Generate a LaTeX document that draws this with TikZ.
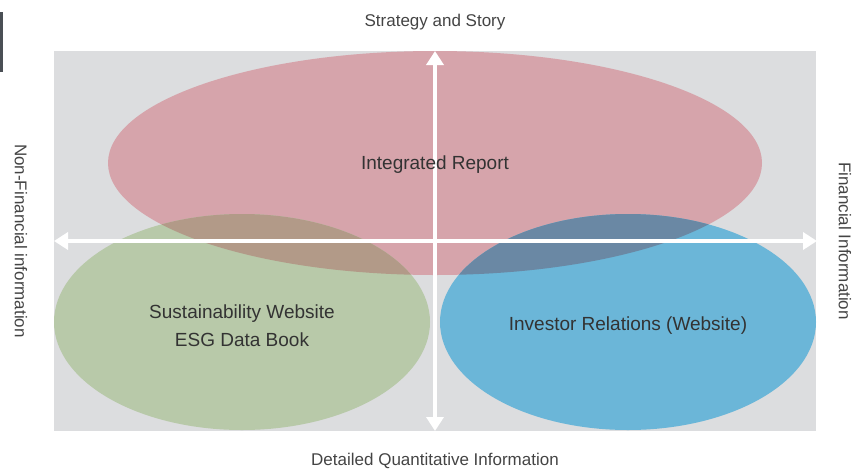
\documentclass[tikz,border=0pt]{standalone}
\usepackage{fontspec}
\setmainfont{Liberation Sans}
\usetikzlibrary{arrows.meta}

\definecolor{panelgray}{HTML}{DCDDDF}
\definecolor{reportred}{HTML}{D6A4AB}
\definecolor{esggreen}{HTML}{B8C9A9}
\definecolor{irblue}{HTML}{6BB6D8}
\definecolor{greenred}{HTML}{B29A88}
\definecolor{bluered}{HTML}{6A88A4}
\definecolor{barcolor}{HTML}{4A4F55}
\definecolor{textdark}{HTML}{333333}
\definecolor{textgray}{HTML}{444444}

\begin{document}
\begin{tikzpicture}[
    x=1pt, y=-1pt,
    axislabel/.style={font=\fontsize{17}{20}\selectfont, text=textgray},
    region/.style={font=\fontsize{19}{28}\selectfont, text=textdark, align=center},
    axis/.style={{Triangle[width=17pt,length=14pt]}-{Triangle[width=17pt,length=14pt]}, white, line width=3.5pt}
]
    \useasboundingbox (0,0) rectangle (858,469);

    % Panel and side bar
    \fill[panelgray] (54,51) rectangle (816,431);
    \fill[barcolor] (0,12) rectangle (3,72);

    % Ellipses
    \fill[reportred] (435,163) ellipse [x radius=327, y radius=112];
    \fill[esggreen] (242,322) ellipse [x radius=188, y radius=108];
    \fill[irblue] (628,322) ellipse [x radius=188, y radius=108];

    % Overlaps
    \begin{scope}
        \clip (242,322) ellipse [x radius=188, y radius=108];
        \fill[greenred] (435,163) ellipse [x radius=327, y radius=112];
    \end{scope}
    \begin{scope}
        \clip (628,322) ellipse [x radius=188, y radius=108];
        \fill[bluered] (435,163) ellipse [x radius=327, y radius=112];
    \end{scope}

    % Axis ends
    \coordinate (top) at (435,51);
    \coordinate (bottom) at (435,431);
    \coordinate (left) at (54,241);
    \coordinate (right) at (817,241);

    % Arrows
    \draw[axis] (top) -- (bottom);
    \draw[axis] (left) -- (right);

    % Region labels
    \node[region] (report) at (435,165) {Integrated Report};
    \node[region] (esg) at (242,326) {Sustainability Website\\ESG Data Book};
    \node[region] (ir) at (628,326) {Investor Relations (Website)};

    % Axis labels
    \node[axislabel] (story) at (435,22) {Strategy and Story};
    \node[axislabel] (quant) at (435,461) {Detailed Quantitative Information};
    \node[axislabel, rotate=-90] (nonfin) at (21,241) {Non-Financial information};
    \node[axislabel, rotate=-90] (fin) at (845,241) {Financial Information};
\end{tikzpicture}
\end{document}
